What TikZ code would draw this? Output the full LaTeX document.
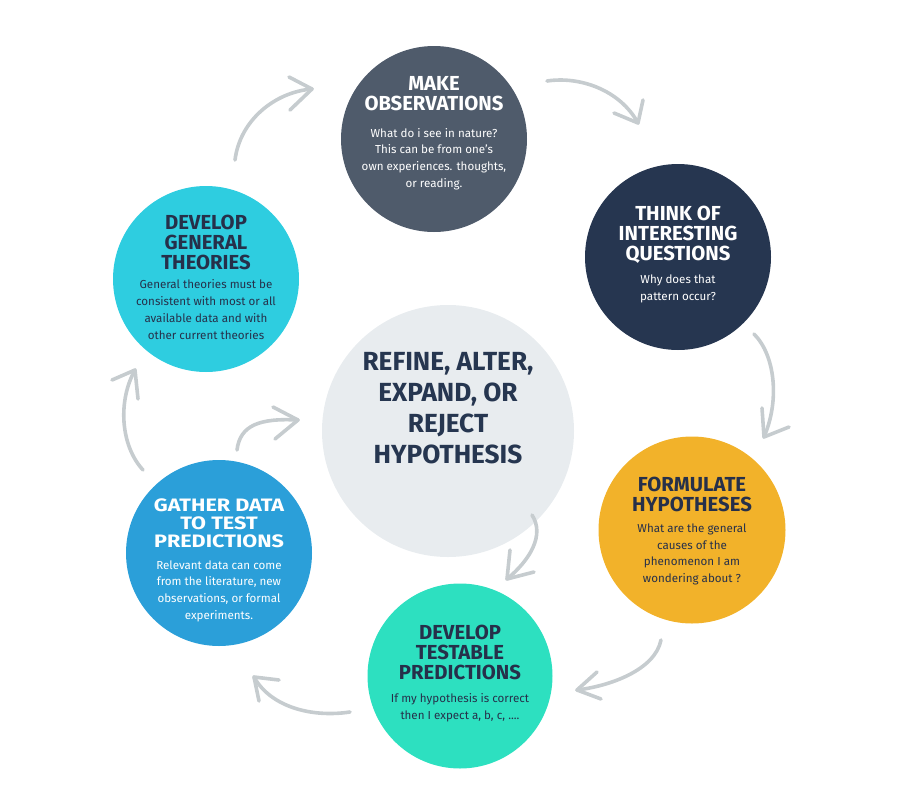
\documentclass[tikz,border=0pt]{standalone}
\usepackage{fontspec}
\setmainfont{Fira Sans}
\definecolor{cMake}{HTML}{4F5B6B}
\definecolor{cThink}{HTML}{263650}
\definecolor{cTheory}{HTML}{2ECDE0}
\definecolor{cCenter}{HTML}{E8ECEF}
\definecolor{cForm}{HTML}{F2B22A}
\definecolor{cTest}{HTML}{2DE0C0}
\definecolor{cGather}{HTML}{2B9FD9}
\definecolor{cDark}{HTML}{26304A}
\definecolor{cArrow}{HTML}{C6CCCF}
\tikzset{
  bubble/.style={circle, inner sep=0pt, minimum size=#1},
  ttl/.style={font=\bfseries\fontsize{20.3}{20}\selectfont, align=center, inner sep=0pt},
  bdy/.style={font=\fontsize{11.6}{16.7}\selectfont, align=center, inner sep=0pt},
  curvy/.style={draw=cArrow, line width=3.6pt, line cap=round, line join=round},
}
\begin{document}
\begin{tikzpicture}[x=1pt, y=-1pt]
\useasboundingbox (0,0) rectangle (900,809);
% circles
\node[bubble=186pt, fill=cMake] (make) at (434,139) {};
\node[bubble=186pt, fill=cThink] (think) at (678,257) {};
\node[bubble=186pt, fill=cTheory] (theory) at (206,279) {};
\node[bubble=252pt, fill=cCenter] (center) at (448,431) {};
\node[bubble=187pt, fill=cForm] (form) at (692,530) {};
\node[bubble=185pt, fill=cTest] (test) at (460,676) {};
\node[bubble=186pt, fill=cGather] (gather) at (219,553) {};
% texts
\node[ttl, text=white] (maket) at (434,93.5) {MAKE\\OBSERVATIONS};
\node[bdy, text=white] (makeb) at (434,159) {What do i see in nature?\\This can be from one's\\own experiences. thoughts,\\or reading.};
\node[ttl, text=white] (thinkt) at (678,234.5) {THINK OF\\INTERESTING\\QUESTIONS};
\node[bdy, text=white] (thinkb) at (678,289) {Why does that\\pattern occur?};
\node[ttl, text=cDark] (theoryt) at (206,242) {DEVELOP\\GENERAL\\THEORIES};
\node[bdy, text=cDark] (theoryb) at (206,309.5) {General theories must be\\consistent with most or all\\available data and with\\other current theories};
\node[font=\bfseries\fontsize{26.2}{31}\selectfont, align=center, inner sep=0pt, text=cThink] (centert) at (448,408.5) {REFINE, ALTER,\\EXPAND, OR\\REJECT\\HYPOTHESIS};
\node[ttl, text=cDark] (formt) at (692,494.5) {FORMULATE\\HYPOTHESES};
\node[bdy, text=cDark] (formb) at (692,554.5) {What are the general\\causes of the\\phenomenon I am\\wondering about ?};
\node[ttl, text=cDark] (testt) at (460,652.5) {DEVELOP\\TESTABLE\\PREDICTIONS};
\node[bdy, text=cDark] (testb) at (460,708) {If my hypothesis is correct\\then I expect a, b, c, ....};
\node[ttl, text=white, font=\bfseries\fontsize{18}{18}\selectfont\addfontfeature{FakeStretch=1.2}] (gathert) at (219,523) {GATHER DATA\\TO TEST\\PREDICTIONS};
\node[bdy, text=white] (gatherb) at (219,591) {Relevant data can come\\from the literature, new\\observations, or formal\\experiments.};
% arrows
\coordinate (a1s) at (235,160); \coordinate (a1t) at (312,89);
\coordinate (a1u) at (289,77);  \coordinate (a1l) at (290,110);
\draw[curvy] (a1s) .. controls (240,120) and (275,92) .. (a1t);
\draw[curvy] (a1u) -- (a1t) -- (a1l);

\coordinate (a2s) at (547,81); \coordinate (a2t) at (638,123);
\coordinate (a2u) at (643,100); \coordinate (a2l) at (614,113);
\draw[curvy] (a2s) .. controls (580,76) and (620,90) .. (a2t);
\draw[curvy] (a2u) -- (a2t) -- (a2l);

\coordinate (a3s) at (754,334); \coordinate (a3t) at (764,437);
\coordinate (a3u) at (762,408); \coordinate (a3l) at (789,427);
\draw[curvy] (a3s) .. controls (775,355) and (780,400) .. (a3t);
\draw[curvy] (a3u) -- (a3t) -- (a3l);

\coordinate (a4s) at (661,640); \coordinate (a4t) at (577,690);
\coordinate (a4u) at (597,672); \coordinate (a4l) at (601,699);
\draw[curvy] (a4s) .. controls (655,670) and (610,686) .. (a4t);
\draw[curvy] (a4u) -- (a4t) -- (a4l);

\coordinate (a5s) at (350,712); \coordinate (a5t) at (254,677);
\coordinate (a5u) at (279,680); \coordinate (a5l) at (259,701);
\draw[curvy] (a5s) .. controls (310,718) and (270,706) .. (a5t);
\draw[curvy] (a5u) -- (a5t) -- (a5l);

\coordinate (a6s) at (143,470); \coordinate (a6t) at (135,370);
\coordinate (a6u) at (112,380); \coordinate (a6l) at (138,399);
\draw[curvy] (a6s) .. controls (120,445) and (118,400) .. (a6t);
\draw[curvy] (a6u) -- (a6t) -- (a6l);

\coordinate (a7s) at (237,450); \coordinate (a7t) at (298,420);
\coordinate (a7u) at (273,407); \coordinate (a7l) at (275,439);
\draw[curvy] (a7s) .. controls (240,425) and (260,418) .. (a7t);
\draw[curvy] (a7u) -- (a7t) -- (a7l);

\coordinate (a8s) at (532,515); \coordinate (a8t) at (507,579);
\coordinate (a8u) at (510,550); \coordinate (a8l) at (534,572);
\draw[curvy] (a8s) .. controls (545,535) and (530,560) .. (a8t);
\draw[curvy] (a8u) -- (a8t) -- (a8l);
\end{tikzpicture}
\end{document}
